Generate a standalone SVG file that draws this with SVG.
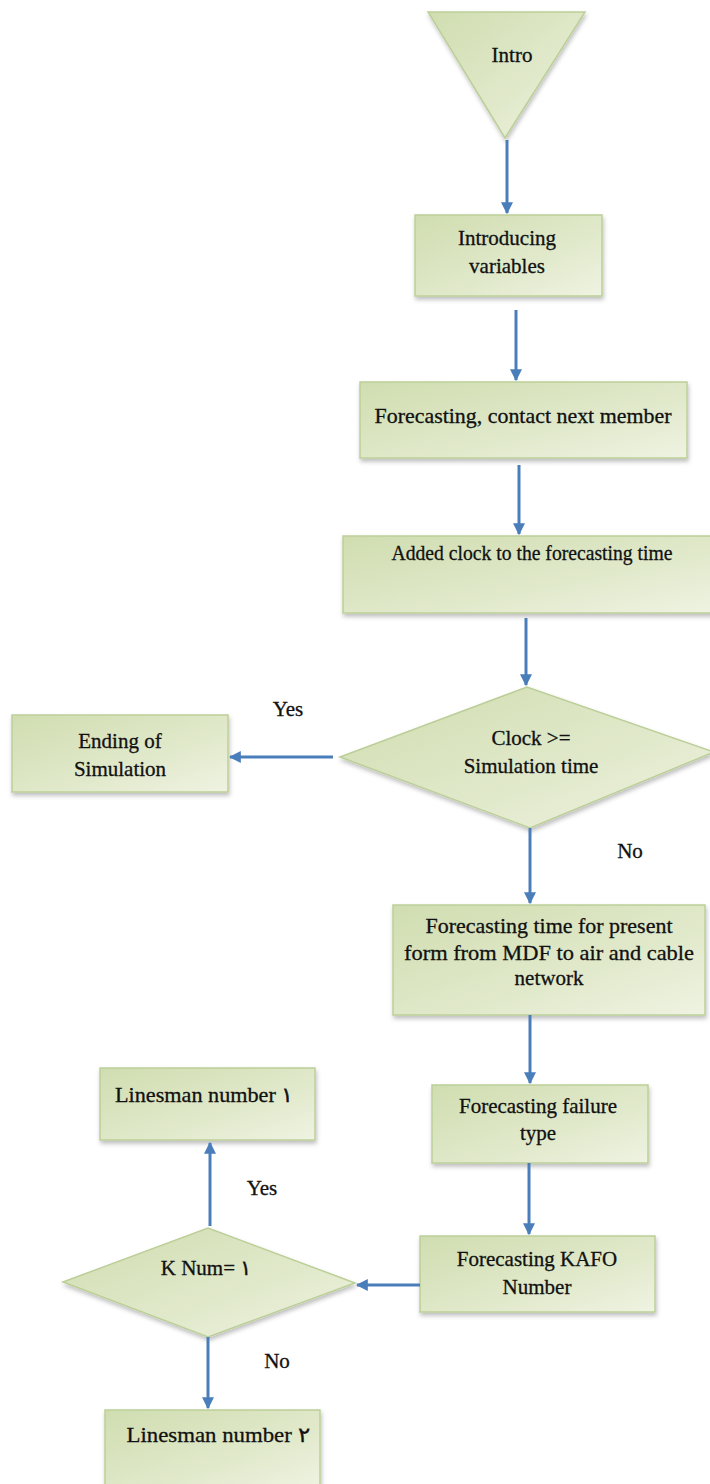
<svg xmlns="http://www.w3.org/2000/svg" width="710" height="1484" viewBox="0 0 710 1484">
<defs>
<linearGradient id="g" x1="0" y1="0" x2="1" y2="1">
<stop offset="0" stop-color="#d0ddb0"/>
<stop offset="0.6" stop-color="#e1e9cb"/>
<stop offset="1" stop-color="#eff3e2"/>
</linearGradient>
<filter id="sh" x="-10%" y="-10%" width="130%" height="130%">
<feDropShadow dx="1" dy="3" stdDeviation="2" flood-color="#000" flood-opacity="0.25"/>
</filter>
<marker id="ah" viewBox="0 0 10 10" refX="9" refY="5" markerWidth="4" markerHeight="4" orient="auto">
<path d="M0,0 L10,5 L0,10 z" fill="#4a7ebb"/>
</marker>
</defs>
<style>
.n{fill:url(#g);stroke:#bccf98;stroke-width:1.5;filter:url(#sh)}
.t{font-family:"Liberation Serif",serif;font-size:21px;fill:#111;stroke:#111;stroke-width:0.3;text-anchor:middle}
.c{stroke:#4a7ebb;stroke-width:3;fill:none;marker-end:url(#ah)}
</style>
<g id="intro"><path class="n" d="M428,12 L585,12 L505,138 z"/><text class="t" x="512" y="62">Intro</text></g>
<g id="vars"><rect class="n" x="415" y="215" width="187" height="81"/><text class="t" x="507" y="245">Introducing</text><text class="t" x="507" y="273">variables</text></g>
<g id="contact"><rect class="n" x="360" y="382" width="327" height="76"/><text class="t" x="523" y="423" textLength="297" lengthAdjust="spacingAndGlyphs">Forecasting, contact next member</text></g>
<g id="clock"><rect class="n" x="343" y="536" width="370" height="77"/><text class="t" x="532" y="560" textLength="281" lengthAdjust="spacingAndGlyphs">Added clock to the forecasting time</text></g>
<g id="dec1"><path class="n" d="M340,757 L527,687 L714,752 L530,828 z"/><text class="t" x="531" y="745">Clock &gt;=</text><text class="t" x="531" y="773">Simulation  time</text></g>
<g id="end"><rect class="n" x="12" y="715" width="216" height="77"/><text class="t" x="120" y="748">Ending of</text><text class="t" x="120" y="776">Simulation</text></g>
<g id="mdf"><rect class="n" x="393" y="905" width="312" height="110"/><text class="t" x="549" y="933" textLength="247" lengthAdjust="spacingAndGlyphs">Forecasting time for present</text><text class="t" x="549" y="960" textLength="290" lengthAdjust="spacingAndGlyphs">form from MDF to air and cable</text><text class="t" x="549" y="985">network</text></g>
<g id="fail"><rect class="n" x="432" y="1085" width="216" height="78"/><text class="t" x="538" y="1113">Forecasting failure</text><text class="t" x="538" y="1140">type</text></g>
<g id="kafo"><rect class="n" x="420" y="1236" width="235" height="76"/><text class="t" x="537" y="1266">Forecasting KAFO</text><text class="t" x="537" y="1294">Number</text></g>
<g id="dec2"><path class="n" d="M63,1282 L208,1228 L355,1283 L208,1337 z"/><text class="t" x="206" y="1275">K Num= ۱</text></g>
<g id="ln1"><rect class="n" x="100" y="1068" width="215" height="72"/><text class="t" x="204" y="1102" textLength="178" lengthAdjust="spacingAndGlyphs">Linesman number ۱</text></g>
<g id="ln2"><rect class="n" x="105" y="1410" width="215" height="80"/><text class="t" x="218" y="1442" textLength="183" lengthAdjust="spacingAndGlyphs">Linesman number ۲</text></g>
<g id="connectors">
<line class="c" x1="507" y1="140" x2="507" y2="213"/>
<line class="c" x1="516" y1="310" x2="516" y2="380"/>
<line class="c" x1="519" y1="465" x2="519" y2="534"/>
<line class="c" x1="526" y1="618" x2="526" y2="685"/>
<line class="c" x1="333" y1="757" x2="230" y2="757"/>
<line class="c" x1="530" y1="828" x2="530" y2="903"/>
<line class="c" x1="530" y1="1015" x2="530" y2="1083"/>
<line class="c" x1="529" y1="1163" x2="529" y2="1234"/>
<line class="c" x1="420" y1="1285" x2="357" y2="1285"/>
<line class="c" x1="210" y1="1226" x2="210" y2="1143"/>
<line class="c" x1="208" y1="1337" x2="208" y2="1408"/>
<text class="t" x="288" y="716">Yes</text>
<text class="t" x="630" y="858">No</text>
<text class="t" x="262" y="1195">Yes</text>
<text class="t" x="277" y="1368">No</text>
</g>
</svg>
